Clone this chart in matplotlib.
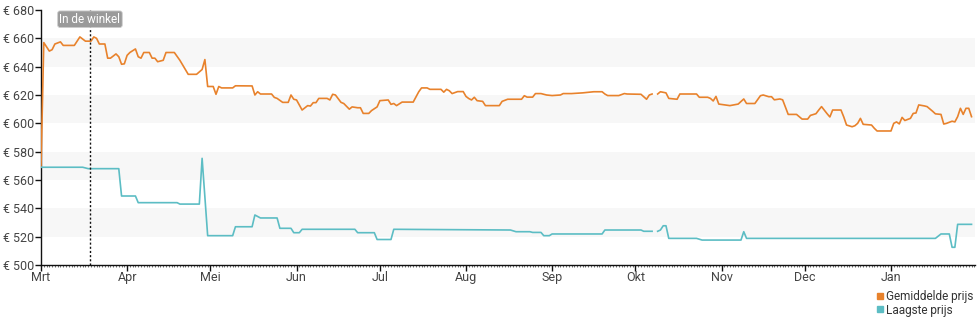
import numpy as np
import pandas as pd
import matplotlib
matplotlib.use("Agg")
import matplotlib.pyplot as plt
import matplotlib.dates as mdates
from matplotlib.lines import Line2D

plt.rcParams['font.family'] = ['Roboto', 'DejaVu Sans']

start_date = "2023-03-01"
end_date = "2024-01-31T06:00"
in_store_date = "2023-03-18T15:00"
in_store_label = "In de winkel"

# day offsets from start_date and prices
avg_days = [0, 1, 3, 4, 5, 7, 8, 12, 13, 14, 16, 18, 19, 20, 21, 23, 24, 25, 27, 28, 29, 30,
            31, 32, 34, 35, 36, 37, 39, 40, 41, 42, 44, 45, 48, 50, 53, 56, 58, 59, 60, 62,
            63, 64, 65, 69, 70, 76, 77, 78, 79, 83, 84, 85, 87, 89, 90, 91, 92, 93, 94, 96,
            97, 98, 99, 100, 103, 104, 105, 106, 108, 109, 111, 112, 114, 115, 116, 118, 119,
            121, 122, 125, 126, 127, 128, 130, 134, 136, 137, 139, 140, 144, 145, 146, 147,
            148, 150, 152, 153, 154, 155, 156, 157, 159, 160, 165, 166, 168, 173, 174, 175,
            177, 178, 180, 182, 184, 187, 188, 191, 195, 199, 202, 203, 204, 208, 210, 211,
            216, 218, 219, 220, 221, 222, 223, 225, 226, 229, 230, 236, 237, 240, 241, 242,
            243, 244, 248, 251, 253, 254, 257, 259, 260, 262, 263, 264, 266, 267, 269, 272,
            274, 276, 277, 279, 280, 281, 283, 284, 285, 288, 289, 290, 292, 293, 294, 295,
            296, 299, 300, 301, 306, 307, 308, 309, 310, 311, 313, 314, 315, 316, 318, 319,
            321, 322, 324, 325, 326, 328, 329, 330, 331, 332, 333, 334, 335]
avg_prices = [569, 657, 651, 652, 656, 657.5, 655, 655, 658, 661, 658, 658, 661, 660, 656, 656,
              646, 646, 649, 647, 641.7, 642, 648, 650, 652.5, 647, 646, 650, 650, 646, 646,
              643.5, 644.5, 650, 650, 644.5, 634.6, 634.6, 638, 645, 626, 626, 620.5, 626, 625,
              625, 626.5, 626.4, 620, 622.3, 620.7, 620.7, 618.3, 617.6, 614.8, 614.8, 620, 617,
              616.5, 613, 609.4, 612.5, 612.2, 614.6, 614.6, 617.6, 617.6, 616.5, 620.5, 620,
              614.8, 614, 610, 611.6, 611, 611, 607, 607, 609, 611.6, 616, 616.5, 613.4, 614,
              612.5, 615, 615, 622.3, 625, 625, 624, 624, 622, 624, 623, 621, 622.4, 622.4,
              619, 617.5, 616.5, 618.4, 616, 615.5, 612.5, 612.5, 615.5, 617, 617, 619.5,
              618.5, 618.5, 621, 621, 620, 619.6, 620, 621, 621, 621.5, 622.3, 622.3, 620.7,
              619.6, 619.6, 621, 620.7, 620.5, 617, 620, 620.7, np.nan, 620.7, 622.3, 621.5,
              617.6, 617, 620.7, 620.7, 618.4, 618.4, 617.6, 615.8, 619, 613.6, 612.5, 613.6,
              617.2, 614, 614, 619.5, 620, 618.8, 618.8, 616.6, 617.2, 616.6, 606.3, 606.3,
              603, 603, 605.6, 606.8, 609.4, 611.8, 606.8, 604.5, 609.4, 609.4, 604.5, 598.8,
              597.6, 598.3, 600, 603.5, 599.3, 598.8, 596.5, 594.6, 594.6, 600, 601, 599.6,
              604.2, 602, 603.5, 607, 607.3, 613, 612.3, 611.8, 608.5, 606.7, 606.3, 599.5,
              600, 601.5, 601, 604.7, 610.6, 606.3, 610.6, 610.6, 604.7]

low_days = [0, 15, 17, 28, 29, 34, 35, 49, 50, 57, 58, 60, 69, 70, 76, 77, 79, 85, 86, 90, 91,
            93, 94, 113, 114, 120, 121, 126, 127, 169, 171, 176, 177, 180, 181, 183, 184, 202,
            203, 216, 217, 220, 221, 222, 223, 224, 225, 226, 236, 238, 252, 253, 254, 322,
            324, 327, 328, 329, 330, 335]
low_prices = [569, 569, 568, 568, 548.7, 548.7, 544, 544, 543, 543, 575.3, 520.7, 520.7, 527,
              527, 535.3, 533.2, 533.2, 525.9, 525.9, 522.8, 522.8, 525.2, 525.2, 522.8, 522.8,
              518, 518, 525.2, 524.7, 523.5, 523.5, 523, 523, 520.7, 520.7, 521.9, 521.9, 524.7,
              524.7, 523.8, 523.8, np.nan, 523.8, 524.7, 527.7, 527.7, 518.8, 518.8, 517.6,
              517.6, 523.5, 518.8, 518.8, 521.9, 521.9, 512.5, 512.5, 528.7, 528.7]

series_labels = ["Gemiddelde prijs", "Laagste prijs"]
series_colors = ["#e8822c", "#5cbdc4"]
month_labels = ["Mrt", "Apr", "Mei", "Jun", "Jul", "Aug", "Sep", "Okt", "Nov", "Dec", "Jan"]
y_ticks = [500, 520, 540, 560, 580, 600, 620, 640, 660, 680]

t0 = pd.Timestamp(start_date)
avg_x = [t0 + pd.Timedelta(days=d) for d in avg_days]
low_x = [t0 + pd.Timedelta(days=d) for d in low_days]

fig = plt.figure(figsize=(9.8, 3.25), dpi=100)
ax = fig.add_axes([41 / 980, 1 - 265 / 325, 934 / 980, 255 / 325])

for lo in [520, 560, 600, 640]:
    ax.axhspan(lo, lo + 20, color="#f7f7f7", zorder=0, lw=0)

ax.plot(avg_x, avg_prices, color=series_colors[0], lw=1.2, zorder=3)
ax.plot(low_x, low_prices, color=series_colors[1], lw=1.2, zorder=3)

ax.axvline(pd.Timestamp(in_store_date), color="#111111", lw=1, ls=(0, (1.5, 1.5)), zorder=4)
ax.text(pd.Timestamp(in_store_date), 673.5, in_store_label, ha="center", va="center",
        fontsize=8.5, color="white", zorder=5,
        bbox=dict(boxstyle="round,pad=0.15,rounding_size=0.2", fc="#9a9a9a", ec="#cccccc", lw=0.6))

ax.set_ylim(500, 680)
ax.set_xlim(t0, pd.Timestamp(end_date))
ax.set_yticks(y_ticks)
ax.set_yticklabels([f"€ {v}" for v in y_ticks])

month_starts = pd.date_range(t0, periods=len(month_labels), freq="MS")
ax.set_xticks(month_starts)
ax.set_xticklabels(month_labels)
ax.xaxis.set_minor_locator(mdates.DayLocator())

for s in ["top", "right"]:
    ax.spines[s].set_visible(False)
for s in ["left", "bottom"]:
    ax.spines[s].set_color("#111111")
    ax.spines[s].set_linewidth(1)

ax.tick_params(axis="y", length=4, width=1, color="#111111", labelsize=9, labelcolor="#444444", pad=1)
ax.tick_params(axis="x", which="major", length=4, width=1, color="#111111", labelsize=9,
               labelcolor="#444444", pad=0)
ax.tick_params(axis="x", which="minor", length=1.5, width=0.5, color="#333333")

handles = [Line2D([], [], marker="s", ls="none", color=c, markersize=5) for c in series_colors]
fig.legend(handles, series_labels, loc="upper right", bbox_to_anchor=(973 / 980, 1 - 290 / 325),
           frameon=False, fontsize=8.5, handlelength=0.6, handletextpad=0.2, labelspacing=0.05,
           borderpad=0, borderaxespad=0, labelcolor="#333333")

fig.savefig("out.png", dpi=100)
